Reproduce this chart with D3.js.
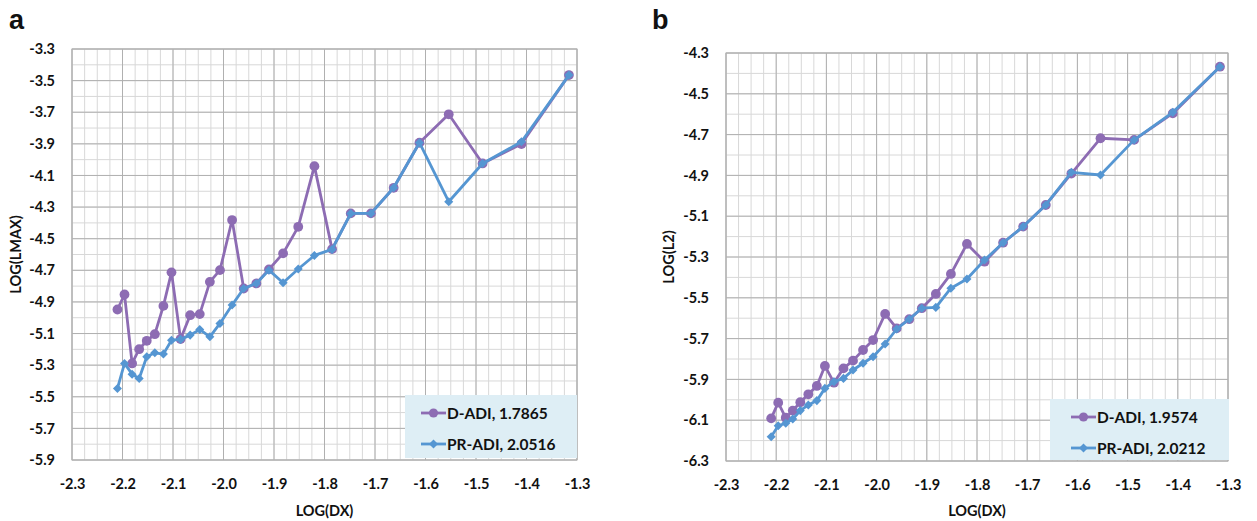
<!DOCTYPE html>
<html><head><meta charset="utf-8">
<script src="https://cdn.jsdelivr.net/npm/d3@7"></script>
<style>
body{margin:0;background:#fff}
svg{display:block}
text{font-family:Lato,"Open Sans",sans-serif;font-weight:bold;fill:#111}
</style>
</head><body>
<svg id="chart" width="1257" height="521"></svg>
<script>
// ---- data ----
const logDx = [-2.210,-2.196,-2.181,-2.167,-2.152,-2.136,-2.119,-2.103,-2.085,-2.066,-2.047,-2.027,-2.007,-1.983,-1.960,-1.935,-1.910,-1.882,-1.852,-1.820,-1.785,-1.748,-1.708,-1.663,-1.612,-1.554,-1.487,-1.410,-1.316];
const aDADI  = [-4.948,-4.853,-5.289,-5.199,-5.146,-5.104,-4.925,-4.713,-5.135,-4.984,-4.977,-4.773,-4.699,-4.382,-4.815,-4.783,-4.694,-4.593,-4.425,-4.041,-4.566,-4.340,-4.340,-4.178,-3.893,-3.713,-4.024,-3.901,-3.465];
const aPRADI = [-5.447,-5.289,-5.357,-5.384,-5.247,-5.222,-5.230,-5.142,-5.137,-5.110,-5.074,-5.121,-5.036,-4.920,-4.815,-4.783,-4.699,-4.779,-4.692,-4.606,-4.568,-4.340,-4.340,-4.178,-3.893,-4.266,-4.024,-3.887,-3.465];
const bDADI  = [-6.091,-6.014,-6.088,-6.053,-6.012,-5.973,-5.932,-5.834,-5.916,-5.846,-5.808,-5.756,-5.707,-5.579,-5.650,-5.605,-5.551,-5.481,-5.383,-5.236,-5.323,-5.230,-5.151,-5.045,-4.891,-4.718,-4.726,-4.596,-4.367];
const bPRADI = [-6.181,-6.127,-6.115,-6.094,-6.053,-6.025,-6.004,-5.944,-5.911,-5.895,-5.854,-5.821,-5.789,-5.726,-5.653,-5.605,-5.551,-5.547,-5.453,-5.408,-5.315,-5.230,-5.151,-5.045,-4.885,-4.898,-4.726,-4.591,-4.367];
const xTickLabels  = ["-2.3","-2.2","-2.1","-2.0","-1.9","-1.8","-1.7","-1.6","-1.5","-1.4","-1.3"];
const aYTickLabels = ["-3.3","-3.5","-3.7","-3.9","-4.1","-4.3","-4.5","-4.7","-4.9","-5.1","-5.3","-5.5","-5.7","-5.9"];
const bYTickLabels = ["-4.3","-4.5","-4.7","-4.9","-5.1","-5.3","-5.5","-5.7","-5.9","-6.1","-6.3"];
const seriesNames = ["D-ADI","PR-ADI"];
const aOrders = ["1.7865","2.0516"];
const bOrders = ["1.9574","2.0212"];

const purple = "#8d6cb3", blue = "#5596d2";
const svg = d3.select("#chart");

function panel(cfg){
  const g = svg.append("g");
  const xVals = xTickLabels.map(Number);
  const yVals = cfg.yLabels.map(Number);
  const x = d3.scaleLinear().domain([d3.min(xVals), d3.max(xVals)]).range([cfg.left, cfg.right]);
  const y = d3.scaleLinear().domain([d3.min(yVals), d3.max(yVals)]).range([cfg.bottom, cfg.top]);

  // minor grid
  const xMinor = d3.range(0, 41).map(i => x.domain()[0] + i*0.025);
  const yMinor = d3.range(0, Math.round((y.domain()[1]-y.domain()[0])/0.1)+1).map(i => y.domain()[0] + i*0.1);
  g.append("g").selectAll("line").data(xMinor).join("line")
    .attr("x1", d=>x(d)).attr("x2", d=>x(d)).attr("y1", cfg.top).attr("y2", cfg.bottom)
    .attr("stroke", "#d8d8d8").attr("stroke-width", 1);
  g.append("g").selectAll("line").data(yMinor).join("line")
    .attr("y1", d=>y(d)).attr("y2", d=>y(d)).attr("x1", cfg.left).attr("x2", cfg.right)
    .attr("stroke", "#d8d8d8").attr("stroke-width", 1);
  // major grid
  g.append("g").selectAll("line").data(xVals).join("line")
    .attr("x1", d=>x(d)).attr("x2", d=>x(d)).attr("y1", cfg.top).attr("y2", cfg.bottom)
    .attr("stroke", "#b0b0b0").attr("stroke-width", 1);
  g.append("g").selectAll("line").data(yVals).join("line")
    .attr("y1", d=>y(d)).attr("y2", d=>y(d)).attr("x1", cfg.left).attr("x2", cfg.right)
    .attr("stroke", "#b0b0b0").attr("stroke-width", 1);
  g.append("rect").attr("x", cfg.left).attr("y", cfg.top)
    .attr("width", cfg.right-cfg.left).attr("height", cfg.bottom-cfg.top)
    .attr("fill", "none").attr("stroke", "#b0b0b0");

  // axes
  const xa = g.append("g").attr("transform", `translate(0,${cfg.bottom})`)
    .call(d3.axisBottom(x).tickValues(xVals).tickFormat((d,i)=>xTickLabels[i]).tickSize(0).tickPadding(19));
  const ya = g.append("g").attr("transform", `translate(${cfg.left},0)`)
    .call(d3.axisLeft(y).tickValues(yVals).tickFormat((d,i)=>cfg.yLabels[i]).tickSize(0).tickPadding(17));
  [xa, ya].forEach(a => {
    a.select(".domain").remove();
    a.selectAll("text").attr("font-size", 14.5).attr("font-family", "Lato").attr("font-weight", "bold").attr("fill", "#111");
  });

  g.append("text").attr("x", (cfg.left+cfg.right)/2).attr("y", 516)
    .attr("text-anchor", "middle").attr("font-size", 14.5).text("LOG(DX)");
  g.append("text").attr("transform", `translate(${cfg.yLabelX},${(cfg.top+cfg.bottom)/2}) rotate(-90)`)
    .attr("text-anchor", "middle").attr("font-size", 14.5).text(cfg.yTitle);
  g.append("text").attr("x", cfg.panelX).attr("y", 29)
    .style("font-family", "'Liberation Sans',Arial,sans-serif").attr("font-size", 27).text(cfg.panelLabel);

  // series
  const line = d3.line().x((d,i)=>x(logDx[i])).y(d=>y(d));
  const diamond = d3.symbol().type(d3.symbolDiamond2).size(52);
  const sets = [{vals: cfg.dadi, color: purple, mark: "circle"}, {vals: cfg.pradi, color: blue, mark: "diamond"}];
  sets.forEach(s => {
    g.append("path").datum(s.vals).attr("d", line).attr("fill", "none")
      .attr("stroke", s.color).attr("stroke-width", 2.8).attr("stroke-linejoin", "round");
    if (s.mark === "circle") {
      g.append("g").selectAll("circle").data(s.vals).join("circle")
        .attr("cx", (d,i)=>x(logDx[i])).attr("cy", d=>y(d)).attr("r", 4.9).attr("fill", s.color);
    } else {
      g.append("g").selectAll("path").data(s.vals).join("path")
        .attr("d", diamond).attr("transform", (d,i)=>`translate(${x(logDx[i])},${y(d)})`).attr("fill", s.color);
    }
  });

  // legend
  const L = cfg.legend;
  const lg = g.append("g");
  lg.append("rect").attr("x", L.x0).attr("y", L.y0).attr("width", L.x1-L.x0).attr("height", L.y1-L.y0)
    .attr("fill", "#deeef5");
  sets.forEach((s, k) => {
    const yy = L.rows[k];
    lg.append("line").attr("x1", L.mx).attr("x2", L.mx+25).attr("y1", yy).attr("y2", yy)
      .attr("stroke", s.color).attr("stroke-width", 2.8);
    if (s.mark === "circle") lg.append("circle").attr("cx", L.mx+12.5).attr("cy", yy).attr("r", 4.6).attr("fill", s.color);
    else lg.append("path").attr("d", diamond).attr("transform", `translate(${L.mx+12.5},${yy})`).attr("fill", s.color);
    lg.append("text").attr("x", L.mx+26).attr("y", yy).attr("dy", "0.36em").attr("font-size", 15.5)
      .text(`${seriesNames[k]}, ${cfg.orders[k]}`);
  });
}

panel({left:72, right:577, top:49, bottom:460, yLabels:aYTickLabels, dadi:aDADI, pradi:aPRADI,
  yTitle:"LOG(LMAX)", yLabelX:21, panelLabel:"a", panelX:9, orders:aOrders,
  legend:{x0:405, x1:577, y0:395, y1:458, mx:421, rows:[413,444]}});
panel({left:726, right:1228, top:53, bottom:461, yLabels:bYTickLabels, dadi:bDADI, pradi:bPRADI,
  yTitle:"LOG(L2)", yLabelX:674, panelLabel:"b", panelX:652, orders:bOrders,
  legend:{x0:1050, x1:1229, y0:399, y1:460, mx:1071, rows:[417,448]}});
</script>
</body></html>
